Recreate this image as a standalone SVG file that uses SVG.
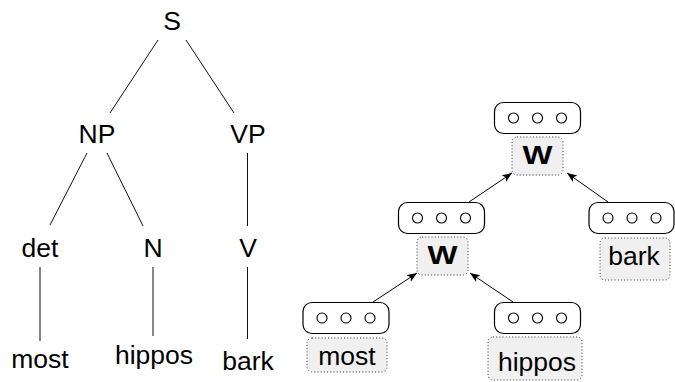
<svg xmlns="http://www.w3.org/2000/svg" width="675" height="382" viewBox="0 0 675 382">
  <style>
    text { font-family: "Liberation Sans", Arial, sans-serif; font-size: 26.5px; fill: #000; text-anchor: middle; }
    .bold { font-weight: bold; }
    .edge { stroke: #111; stroke-width: 1; fill: none; }
    .vec { fill: #fff; stroke: #000; stroke-width: 1.2; }
    .dot { fill: #fff; stroke: #000; stroke-width: 1.1; }
    .lbl { fill: #f0f0f0; stroke: #333; stroke-width: 1; stroke-dasharray: 1 2.2; }
    .arrow { stroke: #000; stroke-width: 1; fill: none; marker-end: url(#tip); }
  </style>
  <defs>
    <marker id="tip" markerUnits="userSpaceOnUse" markerWidth="12" markerHeight="10" refX="10" refY="4" orient="auto">
      <path d="M0,0 L10,4 L0,8 L2.5,4 Z" fill="#000"/>
    </marker>
    <g id="circles">
      <circle class="dot" cx="-24" cy="0" r="5"/>
      <circle class="dot" cx="0" cy="0" r="5"/>
      <circle class="dot" cx="24" cy="0" r="5"/>
    </g>
  </defs>

  <!-- phrase-structure tree: edges -->
  <g id="tree-edges">
    <line class="edge" x1="158" y1="40" x2="110" y2="113"/>
    <line class="edge" x1="186" y1="40" x2="234" y2="113"/>
    <line class="edge" x1="87" y1="153" x2="50" y2="225"/>
    <line class="edge" x1="107" y1="153" x2="143" y2="226"/>
    <line class="edge" x1="247.5" y1="153" x2="247.5" y2="226"/>
    <line class="edge" x1="40" y1="267" x2="40" y2="341"/>
    <line class="edge" x1="153" y1="267" x2="153" y2="336"/>
    <line class="edge" x1="247.5" y1="267" x2="247.5" y2="339"/>
  </g>

  <!-- phrase-structure tree: nodes -->
  <g id="t-S"><text x="172" y="30">S</text></g>
  <g id="t-NP"><text x="97" y="143">NP</text></g>
  <g id="t-VP"><text x="248" y="143">VP</text></g>
  <g id="t-det"><text x="40" y="257">det</text></g>
  <g id="t-N"><text x="153" y="257">N</text></g>
  <g id="t-V"><text x="248" y="257">V</text></g>
  <g id="t-most"><text x="40" y="368">most</text></g>
  <g id="t-hippos"><text x="154" y="364">hippos</text></g>
  <g id="t-bark"><text x="248" y="370">bark</text></g>

  <!-- composition tree: connectors -->
  <g id="connectors">
    <line class="arrow" x1="469" y1="202" x2="512" y2="173"/>
    <line class="arrow" x1="608" y1="202" x2="567" y2="173"/>
    <line class="arrow" x1="373" y1="302" x2="417" y2="273"/>
    <line class="arrow" x1="513" y1="302" x2="470" y2="273"/>
  </g>

  <!-- composition tree: nodes -->
  <g id="c-root">
    <rect class="vec" x="494.5" y="102.5" width="86" height="31" rx="9"/>
    <use href="#circles" x="537.5" y="118"/>
    <rect class="lbl" x="512" y="137" width="51" height="38" rx="5"/>
    <text class="bold" x="537.5" y="164" textLength="30" lengthAdjust="spacingAndGlyphs">W</text>
  </g>
  <g id="c-np">
    <rect class="vec" x="398.5" y="202.5" width="86" height="31" rx="9"/>
    <use href="#circles" x="441.5" y="218"/>
    <rect class="lbl" x="417" y="237" width="51" height="38" rx="5"/>
    <text class="bold" x="442.5" y="264" textLength="30" lengthAdjust="spacingAndGlyphs">W</text>
  </g>
  <g id="c-bark">
    <rect class="vec" x="589" y="202.5" width="85" height="31" rx="9"/>
    <use href="#circles" x="632" y="218"/>
    <rect class="lbl" x="600" y="238" width="70" height="42" rx="5"/>
    <text x="634" y="265">bark</text>
  </g>
  <g id="c-most">
    <rect class="vec" x="303" y="302.5" width="86" height="31" rx="9"/>
    <use href="#circles" x="346" y="318"/>
    <rect class="lbl" x="307" y="338" width="80" height="34" rx="5"/>
    <text x="347" y="365">most</text>
  </g>
  <g id="c-hippos">
    <rect class="vec" x="494.5" y="302.5" width="86" height="31" rx="9"/>
    <use href="#circles" x="537.5" y="318"/>
    <rect class="lbl" x="488" y="337" width="94" height="43" rx="5"/>
    <text x="537" y="371">hippos</text>
  </g>
</svg>
